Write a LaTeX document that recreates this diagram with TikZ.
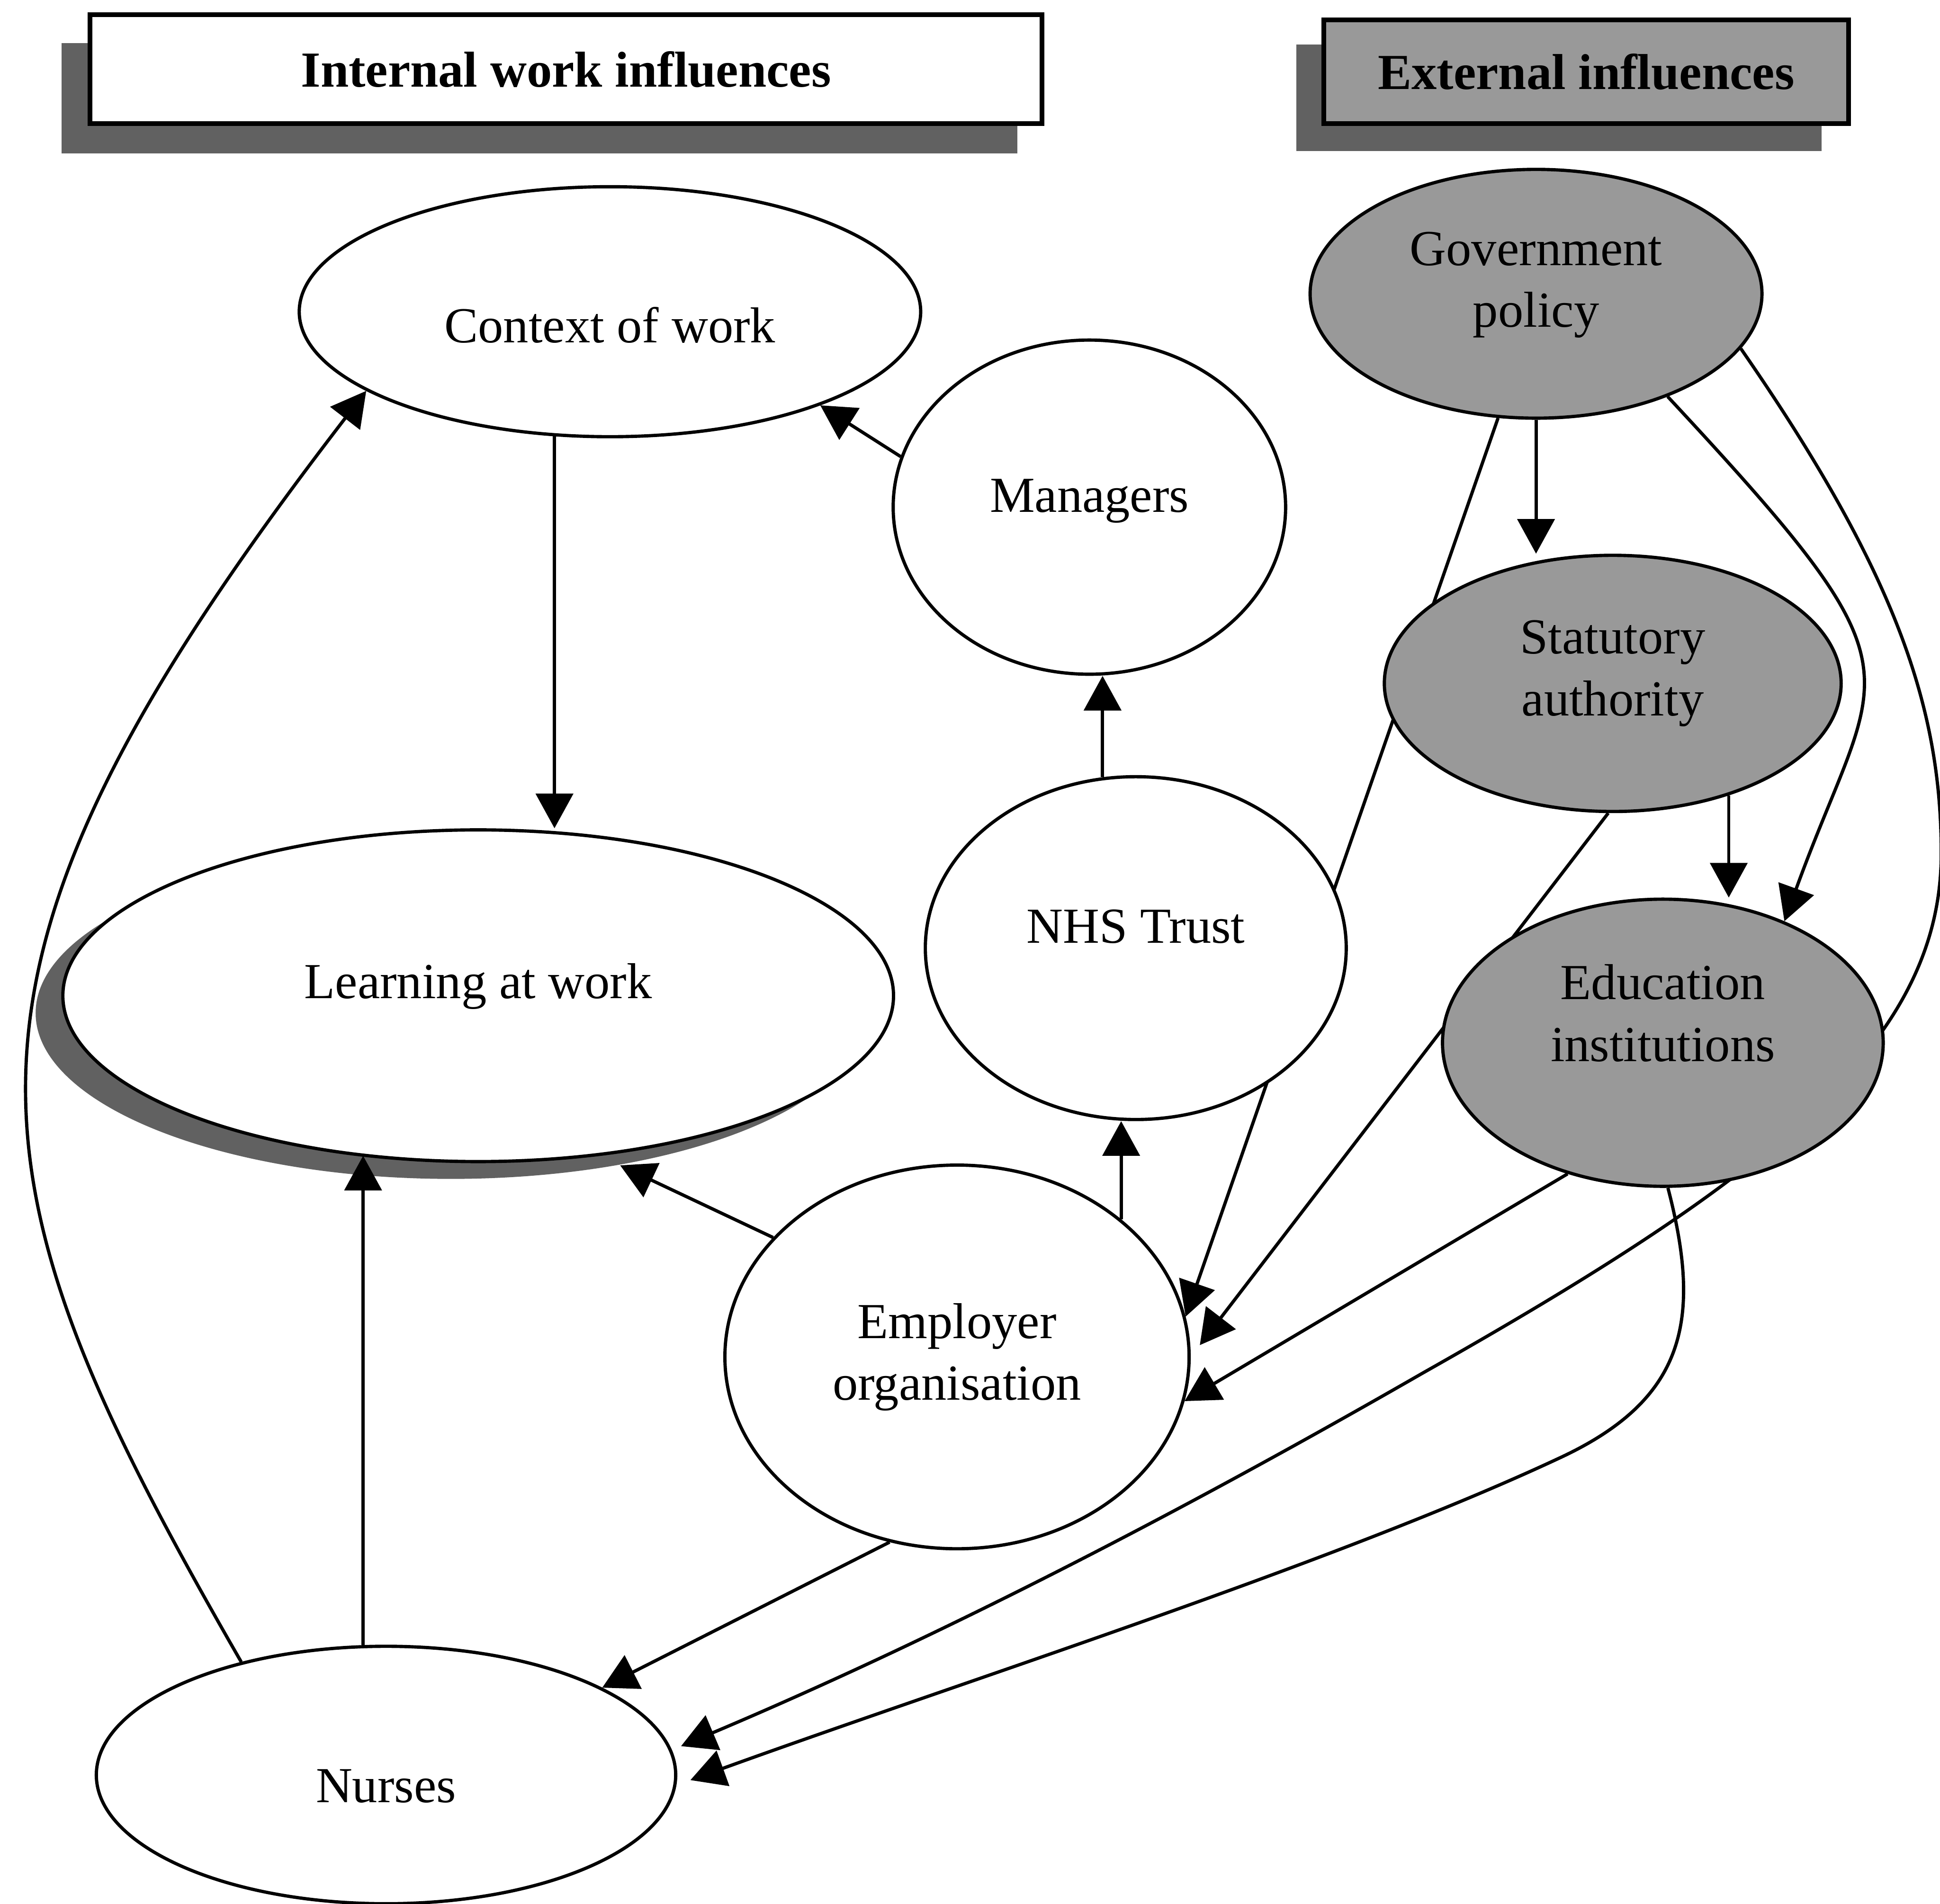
\documentclass[tikz,border=0pt]{standalone}
\usepackage{fontspec}
\setmainfont{Liberation Serif}
\usetikzlibrary{shapes.geometric,arrows.meta}
\pgfdeclarelayer{shadow}
\pgfdeclarelayer{bg}
\pgfsetlayers{shadow,bg,main}
\newcommand\nodefont{\fontsize{11.6}{14.2}\selectfont}
\newcommand\liftxt[2]{\raisebox{#1}[\height][\depth]{\begin{tabular}{@{}c@{}}#2\end{tabular}}}
\tikzset{
  nd/.style={ellipse, draw, line width=0.75pt, fill=white, inner sep=0pt, font=\nodefont, align=center},
  ext/.style={nd, fill=black!40},
  con/.style={line width=0.75pt, -{Triangle[length=0.28cm,width=0.3cm]}},
  shd/.style={fill=black!62, draw=none, inner sep=0pt},
  titlebox/.style={rectangle, draw, line width=1.1pt, inner sep=0pt, font=\nodefont\bfseries},
}
\begin{document}
\begin{tikzpicture}[x=0.01cm,y=-0.01cm]
\useasboundingbox (0,0) rectangle (1568,1539);
\begin{pgfonlayer}{shadow}
\fill[white] (0,0) rectangle (1568,1539);
\node[shd, rectangle, minimum width=7.72cm, minimum height=0.89cm] (tinsh) at (436,79.5) {};
\node[shd, rectangle, minimum width=4.24cm, minimum height=0.86cm] (texsh) at (1260,79) {};
\node[shd, ellipse, minimum width=6.71cm, minimum height=2.68cm] (lrnsh) at (364.5,819) {};
\end{pgfonlayer}
% titles
\node[titlebox, fill=white, minimum width=7.69cm, minimum height=0.88cm] (tin) at (457.5,56) {Internal work influences};
\node[titlebox, fill=black!40, minimum width=4.24cm, minimum height=0.84cm] (tex) at (1282,58) {External influences};
% internal nodes
\node[nd, minimum width=5.02cm, minimum height=2.02cm] (ctx) at (493,252) {\liftxt{-0.15cm}{Context of work}};
\node[nd, minimum width=3.17cm, minimum height=2.70cm] (mgr) at (880.5,410) {\liftxt{0.06cm}{Managers}};
\node[nd, minimum width=6.71cm, minimum height=2.68cm] (lrn) at (386.5,805) {\liftxt{0.08cm}{Learning at work}};
\node[nd, minimum width=3.40cm, minimum height=2.77cm] (nhs) at (918,766.5) {\liftxt{0.14cm}{NHS Trust}};
\node[nd, minimum width=3.75cm, minimum height=3.10cm] (emp) at (773.5,1097) {\liftxt{0cm}{Employer\\organisation}};
\node[nd, minimum width=4.68cm, minimum height=2.08cm] (nur) at (312,1435) {\liftxt{-0.12cm}{Nurses}};
% external nodes
\node[ext, minimum width=3.65cm, minimum height=2.01cm] (gov) at (1241.5,237.5) {\liftxt{0.08cm}{Government\\policy}};
\node[ext, minimum width=3.69cm, minimum height=2.07cm] (sta) at (1303.5,552.5) {\liftxt{0.09cm}{Statutory\\authority}};
\node[ext, minimum width=3.56cm, minimum height=2.32cm] (edu) at (1344,843) {\liftxt{0.20cm}{Education\\institutions}};
% waypoints
\coordinate (gn1) at (1569,690);
\coordinate (gn2) at (1150,1110);
\coordinate (enb) at (1262,1178);
\begin{pgfonlayer}{bg}
\draw[con] (ctx.246) -- (ctx.246 |- lrn.north);
\draw[con] (mgr.165) -- (ctx.-24);
\draw[con] (nhs.101) -- (nhs.101 |- mgr.south);
\draw[con] (emp.40) -- (emp.40 |- nhs.south);
\draw[con] (emp.147) -- (lrnsh.-42);
\draw[con, shorten >=-0.06cm] (nur.100) -- (nur.100 |- lrn.south);
\draw[con] (emp.250) -- (nur.22);
\draw[con] (nur.142) .. controls +(-228,-396) and +(-365,474) .. (ctx.198);
\draw[con] (gov.south) -- (gov.south |- sta.north);
\draw[con] (gov.253) -- (emp.10);
\draw[con] (gov.-38) .. controls +(215,231) and +(77,-212) .. (edu.45);
\draw[con, shorten >=0.08cm] (gov.-15) .. controls +(126,182) and +(0,-117) .. (gn1)
   .. controls +(0,154) and +(278,-157) .. (gn2)
   .. controls +(-200,115) and +(213,-90) .. (nur.5);
\draw[con] (sta.-44) -- (sta.-44 |- edu.north);
\draw[con, shorten >=0.12cm] (sta.268) -- (emp.0);
\draw[con] (edu.234) -- (emp.-11);
\draw[con, shorten >=0.12cm] (edu.272) .. controls +(28,107) and +(100,-47) .. (enb)
   .. controls +(-181,85) and +(235,-85) .. (nur.-2);
\end{pgfonlayer}
\end{tikzpicture}
\end{document}
